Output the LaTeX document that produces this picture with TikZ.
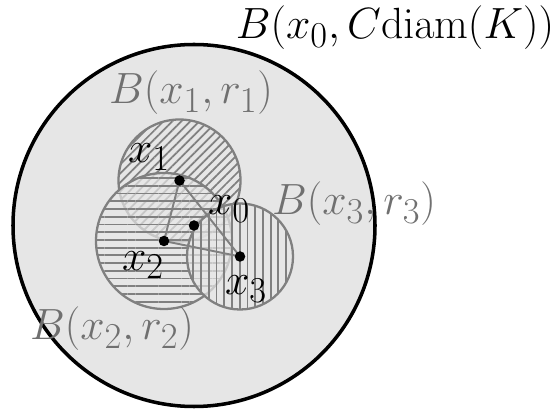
\documentclass[tikz,border=0pt]{standalone}
\usepackage{amsmath}
\usepackage{tikz}
\usetikzlibrary{patterns.meta}
\definecolor{ballgray} {HTML}{808080}
\definecolor{labelgray}{HTML}{707070}
\definecolor{hullgray} {HTML}{E6E6E6}

\begin{document}
\begin{tikzpicture}[
  font=\Huge,
  hull/.style={draw=black, fill=hullgray, line width=2pt},
  ball/.style={draw=ballgray, line width=1.3pt},
  veil/.style={fill=hullgray, fill opacity=0.7},
  hatch/.style 2 args={pattern={Lines[angle=#1, distance=#2, line width=1pt]},
                       pattern color=ballgray},
  link/.style={draw=ballgray, line width=1.1pt},
  dot/.style={fill=black},
  lbl/.style={inner sep=0pt, text=labelgray},
  pt/.style={inner sep=0pt, text=black},
]
  \useasboundingbox (0,0) rectangle (11.06,8.2);

  \coordinate (x0) at (3.88,3.69);
  \coordinate (x1) at (3.59,4.59);
  \coordinate (x2) at (3.28,3.38);
  \coordinate (x3) at (4.80,3.07);

  % The large ball around the whole set.
  \draw[hull] (x0) circle (3.62);

  % Covering balls, each later one veils the one below it.
  \draw[ball, hatch={45}{3.6pt}] (x1) circle (1.22);
  \fill[veil] (x2) circle (1.36);
  \draw[ball, hatch={0}{4.4pt}] (x2) circle (1.36);
  \fill[veil] (x3) circle (1.06);
  \draw[ball, hatch={90}{4.4pt}] (x3) circle (1.06);

  % Triangle of centres.
  \draw[link] (x1) -- (x2);
  \draw[link] (x2) -- (x3);
  \draw[link] (x3) -- (x1);

  \foreach \p in {x0,x1,x2,x3}
    { \fill[dot] (\p) circle (0.105); }

  % Labels.
  \node[pt] (big) at (7.90,7.64) {$B(x_0,C\mathrm{diam}(K))$};
  \node[lbl] (b1) at (3.82,6.34) {$B(x_1,r_1)$};
  \node[lbl] (b2) at (2.24,1.62) {$B(x_2,r_2)$};
  \node[lbl] (b3) at (7.08,4.12) {$B(x_3,r_3)$};
  \node[pt] (l0) at (4.58,4.02) {$x_0$};
  \node[pt] (l1) at (2.98,5.06) {$x_1$};
  \node[pt] (l2) at (2.86,2.90) {$x_2$};
  \node[pt] (l3) at (4.92,2.42) {$x_3$};
\end{tikzpicture}
\end{document}
